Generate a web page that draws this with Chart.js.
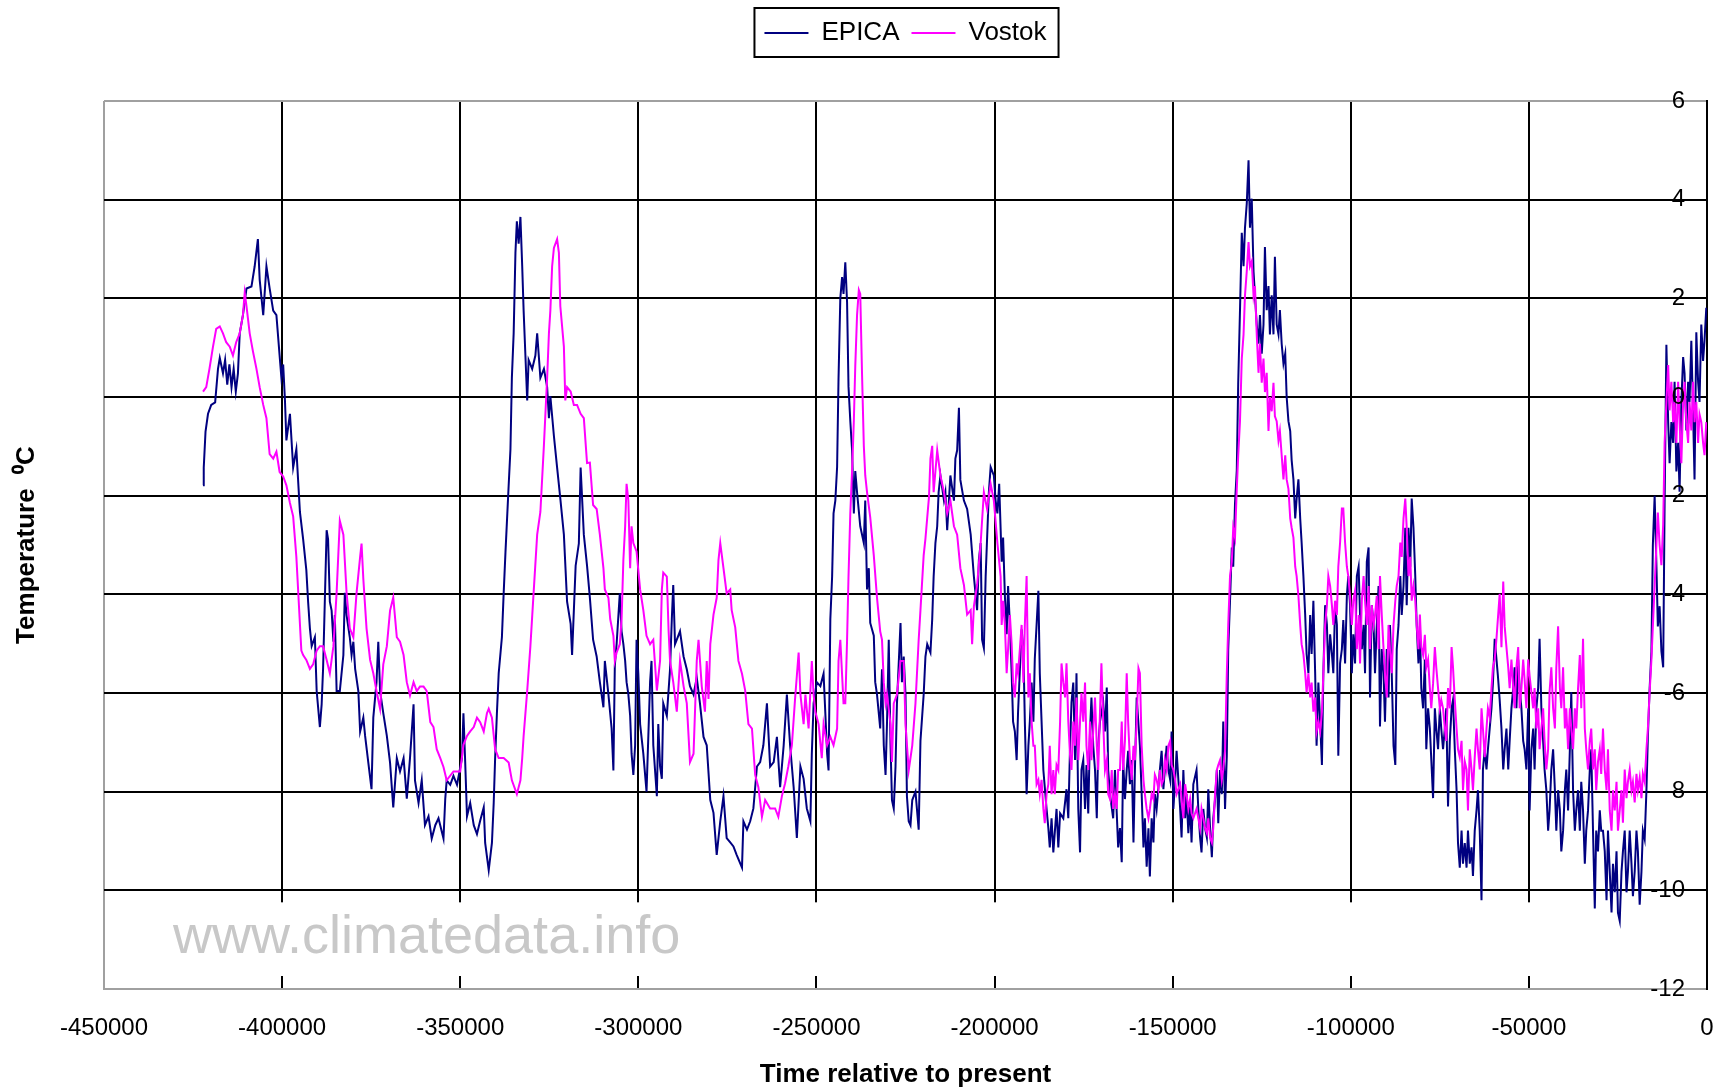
<!DOCTYPE html>
<html>
<head>
<meta charset="utf-8">
<title>EPICA and Vostok temperature</title>
<script src="https://cdn.jsdelivr.net/npm/chart.js@4.4.1/dist/chart.umd.min.js"></script>
<style>
  html, body { margin: 0; padding: 0; background: #fff; }
  #wrap { width: 1727px; height: 1091px; }
</style>
</head>
<body>
<div id="wrap"><canvas id="chart" width="1727" height="1091"></canvas></div>
<script>
// ages are thousands of years before present, temps in deg C
const epicaAgeKyr = [
  -422.2,-422.0,-421.5,-420.8,-419.9,-418.8,-418.0,-417.5,-416.6,-416.0,
  -415.4,-414.8,-414.2,-413.6,-413.0,-412.4,-411.9,-411.0,-410.0,-408.6,
  -407.7,-406.8,-406.3,-405.3,-404.4,-403.5,-402.5,-401.6,-400.7,-400.2,
  -399.7,-399.2,-398.8,-397.8,-396.9,-396.0,-395.5,-395.0,-394.1,-393.2,
  -392.7,-392.2,-391.7,-390.8,-390.3,-389.4,-388.9,-388.5,-387.5,-387.1,
  -386.6,-386.1,-385.6,-385.2,-384.7,-383.8,-382.8,-382.4,-381.9,-381.0,
  -380.5,-380.0,-379.5,-378.6,-378.1,-377.2,-376.7,-375.8,-374.9,-374.4,
  -373.5,-373.0,-372.5,-371.6,-370.6,-369.7,-368.8,-367.8,-366.9,-365.9,
  -365.0,-364.1,-363.1,-362.7,-361.7,-360.8,-359.9,-358.9,-358.0,-357.0,
  -356.1,-354.7,-354.2,-353.8,-352.8,-351.9,-350.9,-349.5,-349.1,-348.6,
  -348.1,-347.2,-346.2,-345.3,-344.4,-343.4,-343.0,-342.0,-341.1,-340.6,
  -340.2,-339.7,-339.2,-338.3,-337.8,-337.3,-336.4,-335.9,-335.5,-335.0,
  -334.5,-334.1,-333.6,-333.1,-332.6,-332.2,-331.7,-331.2,-330.8,-329.8,
  -328.9,-328.4,-327.5,-326.5,-325.6,-325.1,-324.7,-323.7,-322.8,-321.9,
  -320.9,-320.0,-319.0,-318.6,-317.6,-316.7,-316.2,-315.3,-314.4,-313.6,
  -312.7,-311.7,-310.8,-309.8,-309.4,-308.4,-307.5,-307.0,-306.6,-306.1,
  -305.2,-304.7,-304.2,-303.7,-303.3,-302.8,-302.3,-301.9,-301.4,-300.9,
  -300.5,-300.0,-299.5,-298.6,-297.7,-296.7,-296.3,-295.8,-294.8,-294.4,
  -293.9,-293.4,-293.0,-292.0,-291.1,-290.6,-290.2,-289.7,-289.2,-288.3,
  -287.3,-286.4,-285.5,-284.5,-283.6,-282.7,-281.7,-280.8,-279.8,-278.9,
  -278.0,-277.0,-276.1,-275.2,-274.2,-273.3,-272.4,-270.9,-270.5,-269.5,
  -268.6,-267.7,-266.7,-265.8,-264.9,-263.9,-263.0,-262.0,-261.1,-260.2,
  -259.2,-258.3,-257.4,-256.4,-255.5,-254.5,-253.6,-252.7,-251.7,-251.3,
  -250.8,-249.9,-248.9,-248.0,-247.0,-246.6,-246.1,-245.6,-245.2,-244.7,
  -244.2,-243.8,-243.3,-242.8,-242.4,-241.9,-241.4,-241.0,-240.5,-240.0,
  -239.5,-239.1,-238.6,-237.7,-236.7,-236.3,-235.8,-235.3,-234.9,-233.9,
  -233.5,-233.0,-232.1,-231.6,-231.1,-230.6,-230.2,-229.7,-229.2,-228.8,
  -228.3,-227.8,-227.4,-226.4,-226.0,-225.5,-225.0,-224.6,-224.1,-223.6,
  -223.1,-222.2,-221.3,-220.8,-219.9,-219.4,-218.9,-218.0,-217.5,-217.1,
  -216.6,-216.1,-215.7,-215.2,-214.2,-213.8,-213.3,-212.4,-211.4,-211.0,
  -210.5,-210.0,-209.6,-208.6,-207.7,-206.7,-205.8,-204.9,-204.4,-203.9,
  -203.5,-203.0,-202.5,-201.6,-201.1,-200.2,-199.7,-199.2,-198.7,-198.0,
  -197.6,-197.1,-196.6,-196.2,-195.7,-195.2,-194.8,-194.3,-193.8,-193.4,
  -192.4,-191.9,-191.5,-191.0,-190.5,-190.1,-189.6,-189.1,-188.7,-188.2,
  -187.7,-187.3,-186.8,-186.3,-185.4,-184.9,-184.5,-184.0,-183.5,-182.6,
  -182.1,-181.6,-180.7,-179.8,-179.3,-178.8,-178.4,-177.9,-177.4,-177.0,
  -176.5,-176.0,-175.6,-175.1,-174.6,-174.2,-173.7,-173.2,-172.8,-172.3,
  -171.8,-171.3,-170.9,-170.4,-169.5,-169.0,-168.5,-168.1,-167.6,-166.7,
  -166.2,-165.3,-164.8,-164.3,-163.9,-163.4,-162.9,-162.5,-162.0,-161.5,
  -161.0,-160.6,-160.1,-159.2,-158.7,-158.2,-157.8,-157.3,-156.8,-156.4,
  -155.9,-155.4,-155.0,-154.5,-153.6,-153.1,-152.6,-152.2,-151.7,-151.2,
  -150.7,-150.3,-149.8,-149.3,-148.9,-147.9,-147.5,-147.0,-146.5,-146.1,
  -145.6,-145.1,-144.7,-144.2,-143.3,-142.8,-142.3,-141.9,-141.4,-140.9,
  -140.4,-140.0,-139.5,-139.0,-138.6,-138.1,-137.6,-137.2,-136.7,-136.2,
  -135.8,-135.3,-134.8,-134.4,-133.9,-133.4,-133.0,-132.5,-132.0,-131.6,
  -131.1,-130.6,-130.1,-129.7,-129.2,-128.7,-128.3,-127.8,-127.3,-126.9,
  -126.4,-125.9,-125.5,-125.0,-124.5,-124.1,-123.6,-123.1,-122.7,-122.2,
  -121.7,-121.3,-120.8,-120.3,-119.9,-119.4,-118.9,-118.4,-118.0,-117.5,
  -117.0,-116.6,-116.1,-115.6,-115.2,-114.7,-114.2,-113.8,-113.3,-112.8,
  -112.4,-111.9,-111.4,-111.0,-110.5,-110.0,-109.6,-109.1,-108.6,-108.1,
  -107.7,-107.2,-106.7,-106.3,-105.8,-105.3,-104.9,-104.4,-103.9,-103.5,
  -103.0,-102.5,-102.1,-101.6,-101.1,-100.7,-100.2,-99.7,-99.3,-98.8,
  -98.3,-97.8,-97.4,-96.9,-96.4,-96.0,-95.5,-95.0,-94.6,-94.1,
  -93.6,-93.2,-92.7,-92.2,-91.8,-91.3,-90.8,-90.4,-89.9,-89.4,
  -89.0,-88.5,-88.0,-87.5,-87.1,-86.6,-86.1,-85.7,-85.2,-84.7,
  -84.3,-83.8,-83.3,-82.9,-82.4,-81.9,-81.5,-81.0,-80.6,-80.2,
  -79.7,-79.2,-78.8,-78.3,-77.8,-76.9,-76.4,-76.0,-75.5,-75.0,
  -74.6,-74.1,-73.6,-73.2,-72.7,-72.2,-71.7,-71.3,-70.8,-70.3,
  -69.9,-69.4,-68.9,-68.5,-68.0,-67.5,-67.1,-66.6,-66.1,-65.7,
  -65.2,-64.7,-64.3,-63.8,-63.3,-62.9,-62.4,-61.9,-61.5,-61.0,
  -60.5,-60.1,-59.6,-59.1,-58.7,-58.2,-57.7,-57.2,-56.8,-56.3,
  -55.8,-55.4,-54.9,-54.4,-54.0,-53.5,-53.0,-52.6,-52.1,-51.6,
  -51.2,-50.7,-50.2,-49.8,-49.3,-48.8,-48.4,-47.9,-47.4,-47.0,
  -46.5,-46.0,-45.6,-45.1,-44.6,-44.2,-43.7,-43.2,-42.7,-42.3,
  -41.8,-41.3,-40.9,-40.4,-39.9,-39.5,-39.0,-38.5,-38.1,-37.6,
  -37.1,-36.7,-36.2,-35.7,-35.3,-34.8,-34.3,-33.9,-33.4,-32.9,
  -32.5,-32.0,-31.5,-31.1,-30.6,-30.1,-29.7,-29.2,-28.7,-28.2,
  -27.8,-27.3,-26.8,-26.4,-25.9,-25.4,-25.0,-24.5,-24.0,-23.6,
  -23.1,-22.6,-22.2,-21.7,-21.2,-20.8,-20.3,-19.8,-19.4,-18.9,
  -18.4,-18.0,-17.5,-17.0,-16.6,-16.1,-15.6,-15.2,-14.7,-14.2,
  -13.8,-13.3,-12.8,-12.3,-11.9,-11.4,-10.9,-10.5,-10.0,-9.5,
  -9.1,-8.6,-8.1,-7.7,-7.2,-6.7,-6.3,-5.8,-5.3,-4.9,
  -4.4,-3.9,-3.5,-3.0,-2.5,-2.1,-1.6,-1.1,-0.7,-0.2
];
const epicaTemp = [
  -1.79,-1.43,-0.70,-0.34,-0.16,-0.11,0.57,0.79,0.48,0.75,
  0.25,0.66,0.20,0.57,0.11,0.48,1.29,1.66,2.20,2.24,
  2.65,3.20,2.38,1.66,2.65,2.20,1.75,1.66,0.84,0.39,
  0.66,-0.07,-0.88,-0.34,-1.43,-1.06,-1.70,-2.33,-2.88,-3.51,
  -4.15,-4.69,-5.05,-4.87,-5.96,-6.69,-6.23,-5.51,-2.70,-2.88,
  -4.15,-4.33,-4.96,-4.42,-5.96,-5.96,-5.23,-3.97,-4.42,-4.87,
  -5.23,-4.96,-5.51,-5.96,-6.78,-6.50,-6.87,-7.41,-7.95,-6.50,
  -5.78,-4.96,-5.96,-6.41,-6.87,-7.41,-8.32,-7.32,-7.59,-7.32,
  -8.14,-7.32,-6.23,-7.77,-8.23,-7.77,-8.68,-8.50,-8.95,-8.68,
  -8.54,-8.95,-8.14,-7.77,-7.86,-7.68,-7.86,-7.32,-6.41,-7.41,
  -8.50,-8.23,-8.68,-8.86,-8.59,-8.32,-9.04,-9.59,-9.04,-8.23,
  -7.32,-6.41,-5.60,-4.87,-3.97,-3.15,-1.79,-1.06,0.39,1.29,
  2.92,3.56,3.11,3.65,2.65,1.75,0.84,-0.07,0.75,0.57,
  0.84,1.29,0.39,0.57,0.20,-0.43,0.02,-0.79,-1.43,-2.06,
  -2.79,-4.15,-4.60,-5.23,-3.42,-2.97,-1.43,-2.79,-3.42,-4.07,
  -4.92,-5.26,-5.78,-6.29,-5.35,-6.03,-6.72,-7.57,-5.44,-5.01,
  -3.98,-4.75,-5.01,-5.35,-5.78,-6.03,-6.46,-7.23,-7.66,-7.06,
  -4.92,-5.61,-6.63,-7.23,-8.00,-5.78,-5.35,-7.06,-8.09,-6.63,
  -7.49,-7.74,-6.21,-6.46,-5.52,-4.50,-3.81,-5.01,-4.92,-4.75,
  -5.26,-5.52,-5.86,-6.03,-5.69,-6.21,-6.89,-7.06,-8.17,-8.43,
  -9.28,-8.60,-8.09,-8.94,-9.03,-9.11,-9.28,-9.54,-8.60,-8.77,
  -8.60,-8.34,-7.49,-7.40,-7.06,-6.21,-7.49,-7.40,-6.89,-7.91,
  -7.06,-6.03,-7.06,-7.91,-8.94,-7.49,-7.74,-8.34,-8.60,-7.23,
  -6.21,-5.78,-5.86,-5.61,-7.23,-7.57,-4.50,-3.64,-2.36,-2.10,
  -1.42,0.38,2.00,2.43,2.09,2.73,1.91,0.21,-0.48,-1.08,
  -2.36,-1.50,-1.93,-2.62,-2.96,-2.10,-3.90,-3.47,-4.58,-4.84,
  -5.78,-6.03,-6.72,-5.52,-7.06,-7.66,-6.63,-4.92,-7.06,-8.17,
  -8.34,-7.49,-6.21,-4.58,-5.78,-5.26,-6.03,-8.09,-8.60,-8.68,
  -8.17,-8.00,-8.77,-6.97,-6.03,-5.26,-5.01,-5.18,-4.50,-3.64,
  -2.96,-2.62,-1.93,-1.59,-2.10,-1.93,-2.70,-1.59,-2.10,-1.25,
  -1.08,-0.22,-1.68,-2.10,-2.27,-2.79,-3.64,-4.32,-3.30,-2.96,
  -4.92,-5.09,-3.64,-1.93,-1.42,-1.59,-2.10,-2.36,-1.76,-3.34,
  -2.85,-4.03,-4.81,-3.83,-4.62,-5.60,-6.58,-6.78,-7.36,-6.38,
  -4.71,-5.11,-6.58,-8.05,-7.07,-6.58,-5.79,-6.58,-5.30,-4.62,
  -3.93,-5.60,-6.58,-7.56,-8.35,-8.74,-9.13,-8.54,-9.23,-8.35,
  -9.13,-8.44,-8.54,-7.95,-8.54,-7.07,-6.19,-5.79,-7.36,-5.60,
  -8.35,-9.23,-7.56,-7.36,-8.35,-7.46,-8.44,-6.78,-6.09,-7.07,
  -7.56,-8.54,-7.07,-6.58,-6.19,-6.78,-5.89,-7.56,-8.05,-8.54,
  -7.56,-9.13,-8.74,-9.43,-7.36,-8.15,-7.56,-7.17,-7.85,-7.36,
  -9.03,-7.56,-6.09,-7.07,-8.05,-9.13,-8.54,-9.52,-8.74,-9.72,
  -8.54,-9.03,-8.05,-8.35,-7.56,-7.17,-7.95,-7.56,-7.07,-7.56,
  -7.76,-6.78,-8.35,-7.76,-7.17,-8.35,-8.93,-7.56,-8.54,-8.05,
  -8.84,-8.25,-9.03,-7.85,-7.56,-8.35,-8.93,-9.23,-8.35,-8.74,
  -8.93,-7.95,-8.74,-9.33,-8.54,-8.15,-7.56,-8.64,-7.56,-8.05,
  -6.58,-8.35,-7.27,-5.11,-4.13,-3.05,-3.44,-2.16,-1.48,0.29,
  1.76,3.33,2.65,3.43,3.92,4.80,3.43,4.02,2.55,2.06,
  1.47,1.08,1.66,0.88,1.47,3.04,1.76,2.25,1.27,2.06,
  1.27,2.84,1.47,1.27,1.76,1.08,0.68,0.88,0.00,-0.49,
  -0.69,-1.28,-1.67,-2.46,-2.06,-1.67,-2.46,-2.95,-3.63,-4.42,
  -5.21,-5.60,-4.42,-5.21,-4.13,-5.60,-7.07,-5.79,-6.58,-7.46,
  -5.60,-4.22,-4.62,-5.60,-4.81,-5.21,-5.60,-4.22,-4.62,-7.27,
  -5.40,-5.11,-4.52,-5.40,-4.03,-3.63,-4.22,-5.60,-4.81,-5.40,
  -3.63,-3.44,-4.42,-5.11,-4.62,-5.60,-3.34,-3.05,-6.09,-4.22,
  -4.62,-5.60,-4.62,-3.83,-6.68,-5.11,-5.60,-6.58,-5.11,-6.09,
  -4.62,-5.60,-7.07,-7.46,-5.11,-4.62,-3.63,-4.42,-3.83,-2.65,
  -4.22,-2.65,-3.44,-2.06,-2.65,-3.63,-4.62,-5.40,-4.65,-5.90,
  -6.31,-5.32,-7.14,-6.31,-6.72,-8.13,-6.31,-6.72,-7.14,-6.31,
  -6.72,-7.14,-6.72,-6.31,-8.30,-6.97,-6.31,-6.14,-7.14,-7.97,
  -9.04,-9.54,-8.79,-9.46,-9.04,-9.54,-8.79,-9.46,-9.13,-9.71,
  -8.79,-8.38,-7.97,-8.79,-10.20,-7.55,-7.14,-7.55,-7.14,-6.72,
  -6.31,-5.81,-4.90,-5.32,-5.65,-6.14,-6.72,-7.55,-7.14,-6.72,
  -7.55,-6.97,-6.31,-5.90,-5.48,-6.31,-5.32,-5.90,-6.31,-6.97,
  -7.14,-7.55,-6.31,-8.38,-7.14,-6.72,-7.55,-6.31,-5.90,-4.90,
  -6.31,-6.97,-7.55,-7.97,-8.79,-8.38,-7.55,-7.14,-7.97,-8.79,
  -7.97,-8.38,-9.21,-8.79,-7.97,-7.55,-8.38,-7.14,-5.98,-7.97,
  -8.79,-8.38,-7.97,-8.79,-7.80,-8.38,-9.46,-8.79,-8.38,-7.55,
  -7.14,-8.79,-10.37,-8.79,-9.21,-8.38,-8.79,-8.79,-9.21,-10.20,
  -8.79,-9.62,-10.45,-9.46,-10.04,-9.21,-10.45,-10.62,-9.62,-9.21,
  -8.79,-10.04,-9.62,-8.79,-9.46,-10.12,-9.62,-8.79,-9.21,-10.29,
  -9.62,-8.79,-8.96,-7.97,-6.89,-5.90,-5.15,-3.00,-2.00,-3.41,
  -4.65,-4.24,-5.15,-5.48,-2.17,1.06,-0.51,-1.34,-0.51,-0.93,
  0.31,-1.51,-0.93,-1.92,-0.10,0.81,0.48,-0.68,0.31,-0.10,
  1.14,-0.35,-1.67,1.31,0.31,-0.10,1.47,0.73,1.14,1.81
];
const vostokAgeKyr = [
  -422.2,-421.3,-420.4,-419.4,-418.5,-417.5,-416.6,-415.7,-414.7,-413.8,
  -412.9,-411.9,-411.0,-410.5,-410.0,-409.1,-408.2,-407.2,-406.3,-405.3,
  -404.4,-403.5,-402.5,-401.6,-400.7,-399.7,-398.8,-397.8,-396.9,-396.0,
  -395.0,-394.6,-394.1,-393.2,-392.2,-391.3,-390.3,-389.4,-388.5,-387.5,
  -386.6,-385.6,-384.7,-383.8,-382.8,-381.9,-381.0,-380.0,-379.1,-378.1,
  -377.7,-377.2,-376.3,-375.3,-374.4,-373.5,-372.5,-371.6,-370.6,-369.7,
  -368.8,-367.8,-366.9,-365.9,-365.0,-364.1,-363.1,-362.2,-361.3,-360.3,
  -359.4,-358.4,-357.5,-356.6,-355.6,-354.7,-353.8,-351.9,-350.0,-349.1,
  -348.1,-347.2,-346.2,-345.3,-344.4,-343.4,-342.5,-342.0,-341.1,-340.2,
  -339.2,-337.8,-336.4,-335.5,-334.1,-333.1,-332.6,-332.2,-331.2,-330.3,
  -329.4,-328.4,-327.5,-326.5,-325.6,-325.1,-324.7,-324.2,-323.7,-322.8,
  -322.3,-321.9,-320.9,-320.5,-320.0,-319.0,-318.1,-317.2,-316.2,-315.3,
  -314.4,-313.6,-312.7,-311.7,-310.8,-309.8,-309.4,-308.4,-307.9,-307.0,
  -306.6,-306.1,-305.2,-304.7,-304.2,-303.7,-303.3,-302.8,-302.3,-301.9,
  -301.4,-300.5,-299.5,-298.6,-297.7,-296.7,-295.8,-294.8,-293.9,-293.4,
  -293.0,-292.0,-291.5,-291.1,-290.2,-289.2,-288.3,-287.3,-286.4,-285.5,
  -284.5,-283.6,-283.1,-282.2,-281.3,-280.8,-280.3,-279.8,-278.9,-278.0,
  -277.5,-277.0,-276.1,-275.2,-274.2,-273.8,-272.8,-271.9,-270.9,-270.0,
  -269.1,-268.1,-267.2,-266.3,-265.3,-264.4,-263.0,-261.6,-260.7,-259.7,
  -258.8,-257.9,-256.9,-256.0,-255.0,-254.5,-253.6,-253.1,-252.2,-251.3,
  -250.8,-250.3,-249.4,-248.5,-248.0,-247.0,-246.1,-245.2,-244.2,-243.8,
  -243.3,-242.4,-241.9,-241.4,-241.0,-240.5,-240.0,-239.5,-239.1,-238.6,
  -238.1,-237.7,-237.2,-236.7,-236.3,-235.8,-234.9,-233.9,-233.0,-232.1,
  -231.6,-231.1,-230.6,-230.2,-229.2,-228.8,-228.3,-227.4,-226.4,-225.5,
  -225.0,-224.1,-223.1,-222.2,-221.3,-220.8,-219.9,-219.4,-218.4,-218.0,
  -217.5,-217.1,-216.1,-215.2,-214.2,-213.3,-212.4,-211.4,-210.5,-209.6,
  -208.6,-207.7,-206.7,-206.3,-205.8,-204.9,-203.9,-203.0,-202.1,-201.1,
  -200.2,-199.2,-198.3,-198.0,-197.6,-197.1,-196.6,-196.2,-195.7,-195.2,
  -194.8,-194.3,-193.8,-193.4,-192.9,-192.4,-191.9,-191.5,-191.0,-190.5,
  -190.1,-189.6,-189.1,-188.7,-188.2,-187.7,-187.3,-186.8,-186.3,-185.9,
  -185.4,-184.9,-184.5,-184.0,-183.5,-183.1,-182.6,-182.1,-181.6,-181.2,
  -180.7,-180.2,-179.8,-179.3,-178.8,-178.4,-177.9,-177.4,-177.0,-176.5,
  -176.0,-175.6,-175.1,-174.6,-174.2,-173.7,-173.2,-172.8,-172.3,-171.8,
  -171.3,-170.9,-170.4,-170.0,-169.5,-169.0,-168.5,-168.1,-167.6,-167.1,
  -166.7,-166.2,-165.7,-165.3,-164.8,-164.3,-163.9,-163.4,-162.9,-162.5,
  -162.0,-161.5,-161.0,-160.6,-160.1,-159.6,-159.2,-158.7,-158.2,-157.8,
  -157.3,-156.8,-156.4,-155.9,-155.4,-155.0,-154.5,-154.0,-153.6,-153.1,
  -152.6,-152.2,-151.7,-151.2,-150.7,-150.3,-149.8,-149.3,-148.9,-147.9,
  -147.5,-147.0,-146.5,-146.1,-145.6,-145.1,-144.7,-144.2,-143.3,-142.8,
  -142.3,-141.9,-141.4,-140.9,-140.4,-140.0,-139.5,-139.0,-138.6,-138.1,
  -137.6,-137.2,-136.7,-136.2,-135.8,-135.3,-134.8,-134.4,-133.9,-133.4,
  -133.0,-132.5,-132.0,-131.6,-131.1,-130.6,-130.1,-129.7,-129.2,-128.7,
  -128.3,-127.8,-127.3,-126.9,-126.4,-125.9,-125.5,-125.0,-124.5,-124.1,
  -123.6,-123.1,-122.7,-122.2,-121.7,-121.3,-120.8,-120.3,-119.9,-119.4,
  -118.9,-118.4,-118.0,-117.5,-117.0,-116.6,-116.1,-115.6,-115.2,-114.7,
  -114.2,-113.8,-113.3,-112.8,-112.4,-111.9,-111.4,-111.0,-110.5,-110.0,
  -109.6,-109.1,-108.6,-108.1,-107.7,-107.2,-106.7,-106.3,-105.8,-105.3,
  -104.9,-104.4,-103.9,-103.5,-103.0,-102.5,-102.1,-101.6,-101.1,-100.7,
  -100.2,-99.7,-99.3,-98.8,-98.3,-97.8,-97.4,-96.9,-96.4,-96.0,
  -95.5,-95.0,-94.6,-94.1,-93.6,-93.2,-92.7,-92.2,-91.8,-91.3,
  -90.8,-90.4,-89.9,-89.4,-89.0,-88.5,-88.0,-87.5,-87.1,-86.6,
  -86.1,-85.7,-85.2,-84.7,-84.3,-83.8,-83.3,-82.9,-82.4,-81.9,
  -81.5,-81.0,-80.6,-80.2,-79.7,-79.2,-78.8,-78.3,-77.8,-77.4,
  -76.9,-76.4,-76.0,-75.5,-75.0,-74.6,-74.1,-73.6,-73.2,-72.7,
  -72.2,-71.7,-71.3,-70.8,-70.3,-69.9,-69.4,-68.9,-68.5,-68.0,
  -67.5,-67.1,-66.6,-66.1,-65.7,-65.2,-64.7,-64.3,-63.8,-63.3,
  -62.9,-62.4,-61.9,-61.5,-61.0,-60.5,-60.1,-59.6,-59.1,-58.7,
  -58.2,-57.7,-57.2,-56.8,-56.3,-55.8,-55.4,-54.9,-54.4,-54.0,
  -53.5,-53.0,-52.6,-52.1,-51.6,-51.2,-50.7,-50.2,-49.8,-49.3,
  -48.8,-48.4,-47.9,-47.4,-47.0,-46.5,-46.0,-45.6,-45.1,-44.6,
  -44.2,-43.7,-43.2,-42.7,-42.3,-41.8,-41.3,-40.9,-40.4,-39.9,
  -39.5,-39.0,-38.5,-38.1,-37.6,-37.1,-36.7,-36.2,-35.7,-35.3,
  -34.8,-34.3,-33.9,-33.4,-32.9,-32.5,-32.0,-31.5,-31.1,-30.6,
  -30.1,-29.7,-29.2,-28.7,-28.2,-27.8,-27.3,-26.8,-26.4,-25.9,
  -25.4,-25.0,-24.5,-24.0,-23.6,-23.1,-22.6,-22.2,-21.7,-21.2,
  -20.8,-20.3,-19.8,-19.4,-18.9,-18.4,-18.0,-17.5,-17.0,-16.6,
  -16.1,-15.6,-15.2,-14.7,-14.2,-13.8,-13.3,-12.8,-12.3,-11.9,
  -11.4,-10.9,-10.5,-10.0,-9.5,-9.1,-8.6,-8.1,-7.7,-7.2,
  -6.7,-6.3,-5.8,-5.3,-4.9,-4.4,-3.9,-3.5,-3.0,-2.5,
  -2.1,-1.6,-1.1,-0.7,-0.2
];
const vostokTemp = [
  0.11,0.20,0.57,1.02,1.38,1.43,1.29,1.11,1.02,0.84,
  1.11,1.29,1.66,2.11,1.84,1.29,0.93,0.57,0.20,-0.16,
  -0.43,-1.16,-1.25,-1.11,-1.52,-1.61,-1.79,-2.15,-2.42,-3.24,
  -4.60,-5.14,-5.23,-5.33,-5.51,-5.42,-5.14,-5.05,-5.05,-5.33,
  -5.60,-5.05,-3.97,-2.51,-2.79,-3.97,-4.69,-4.87,-3.97,-3.24,
  -2.97,-3.69,-4.69,-5.33,-5.60,-5.96,-6.32,-5.42,-5.05,-4.33,
  -4.06,-4.87,-4.96,-5.23,-5.78,-6.05,-5.78,-5.96,-5.87,-5.87,
  -5.96,-6.59,-6.69,-7.14,-7.32,-7.50,-7.77,-7.59,-7.59,-7.05,
  -6.87,-6.78,-6.69,-6.50,-6.59,-6.78,-6.41,-6.32,-6.50,-7.14,
  -7.32,-7.32,-7.41,-7.77,-8.05,-7.77,-7.32,-6.87,-5.96,-5.05,
  -3.97,-2.79,-2.33,-0.97,0.39,1.29,1.75,2.65,3.02,3.20,
  2.92,1.84,1.02,-0.07,0.20,0.11,-0.16,-0.16,-0.34,-0.43,
  -1.34,-1.33,-2.19,-2.27,-2.79,-3.47,-3.90,-4.07,-4.50,-4.84,
  -5.35,-5.18,-5.01,-4.50,-3.30,-2.62,-1.76,-2.10,-3.47,-2.62,
  -2.96,-3.13,-3.90,-4.32,-4.84,-5.01,-4.92,-5.95,-5.35,-3.90,
  -3.56,-3.64,-4.75,-5.35,-5.78,-6.38,-5.35,-5.86,-6.21,-7.40,
  -7.23,-5.35,-4.92,-5.86,-6.38,-5.35,-6.12,-5.01,-4.41,-4.07,
  -3.30,-2.96,-3.47,-3.98,-3.90,-4.32,-4.67,-5.35,-5.61,-5.95,
  -6.63,-6.72,-7.66,-7.91,-8.51,-8.17,-8.34,-8.34,-8.51,-8.09,
  -7.83,-7.49,-7.06,-6.12,-5.18,-6.03,-6.63,-6.03,-6.72,-5.35,
  -6.03,-6.38,-6.63,-7.32,-6.63,-7.06,-6.89,-7.06,-6.72,-5.35,
  -4.92,-6.21,-6.21,-4.92,-3.64,-2.36,-1.50,-0.48,0.63,1.66,
  2.17,2.09,0.46,-0.99,-1.59,-1.93,-2.44,-3.21,-4.07,-4.75,
  -4.92,-5.78,-6.21,-6.03,-6.63,-7.40,-6.21,-6.03,-5.35,-5.35,
  -6.63,-7.57,-7.06,-6.21,-4.92,-4.32,-3.21,-2.87,-2.02,-1.25,
  -0.99,-1.93,-1.08,-1.59,-1.93,-2.36,-2.10,-2.62,-2.79,-3.47,
  -3.81,-4.41,-4.32,-5.01,-4.24,-3.81,-2.96,-1.93,-2.27,-1.76,
  -2.10,-2.96,-3.64,-4.62,-4.13,-4.62,-5.60,-5.11,-4.42,-5.01,
  -5.79,-6.09,-5.40,-5.60,-5.11,-4.62,-5.79,-4.62,-3.63,-6.09,
  -5.60,-6.58,-7.07,-7.07,-7.85,-7.76,-8.05,-7.76,-8.35,-8.64,
  -8.05,-7.85,-7.07,-8.05,-7.56,-8.05,-7.46,-7.56,-6.58,-5.40,
  -5.79,-6.09,-5.40,-6.58,-7.27,-7.56,-6.58,-7.07,-6.09,-7.36,
  -6.58,-6.00,-6.58,-5.79,-7.07,-7.56,-6.58,-7.36,-6.78,-6.09,
  -7.07,-7.56,-6.38,-5.40,-6.58,-7.56,-7.36,-8.05,-8.15,-7.56,
  -8.35,-8.05,-8.35,-7.56,-7.56,-6.58,-7.56,-6.97,-5.60,-6.58,
  -7.36,-7.76,-7.07,-7.36,-6.58,-5.50,-5.60,-7.07,-7.76,-8.05,
  -8.35,-8.54,-8.35,-8.05,-8.15,-7.66,-7.76,-7.95,-7.56,-7.85,
  -7.76,-7.36,-7.56,-7.07,-6.97,-7.46,-7.56,-7.76,-8.05,-7.85,
  -8.15,-8.54,-7.85,-8.05,-8.35,-8.15,-8.44,-8.54,-8.35,-8.54,
  -8.74,-8.35,-8.54,-8.74,-8.84,-8.54,-8.93,-9.03,-8.74,-8.05,
  -7.56,-7.46,-7.36,-7.76,-7.56,-7.17,-5.60,-4.62,-3.63,-3.34,
  -2.65,-2.85,-1.86,-1.18,-0.49,0.78,1.27,2.06,2.55,3.14,
  2.65,2.75,2.06,2.25,1.27,0.49,1.08,0.29,0.78,0.10,
  0.49,-0.69,0.00,-0.29,0.29,-0.39,-0.49,-0.88,-0.69,-1.18,
  -1.67,-1.18,-1.67,-1.86,-2.46,-2.65,-2.85,-3.44,-3.63,-4.03,
  -4.62,-5.01,-5.21,-5.60,-5.99,-5.60,-6.09,-5.79,-6.38,-6.09,
  -6.78,-6.58,-6.78,-6.38,-5.60,-4.62,-4.22,-3.63,-3.83,-4.22,
  -4.62,-4.13,-4.42,-3.44,-2.95,-2.26,-2.26,-2.95,-3.44,-3.63,
  -4.03,-4.62,-4.13,-3.93,-5.11,-4.42,-5.40,-4.13,-3.63,-4.13,
  -4.62,-3.83,-5.11,-4.22,-4.62,-4.42,-4.03,-5.11,-3.63,-4.42,
  -5.11,-5.60,-6.09,-4.62,-5.11,-5.60,-4.62,-4.13,-3.83,-3.63,
  -2.95,-3.24,-2.46,-2.06,-2.65,-3.63,-3.24,-4.13,-3.83,-4.13,
  -4.62,-5.11,-4.41,-5.07,-5.23,-4.82,-5.48,-5.32,-5.90,-6.31,
  -5.81,-5.07,-5.48,-5.90,-6.31,-6.14,-6.31,-6.72,-6.97,-5.90,
  -6.31,-5.07,-5.48,-6.14,-6.72,-7.14,-7.30,-6.97,-7.97,-7.39,
  -7.55,-8.38,-7.14,-7.55,-7.97,-7.30,-6.72,-7.14,-7.55,-6.31,
  -6.72,-7.30,-6.72,-6.31,-6.48,-5.90,-5.48,-5.32,-4.90,-4.49,
  -3.99,-5.07,-3.74,-4.65,-5.07,-5.48,-5.90,-5.32,-5.90,-6.31,
  -5.48,-5.07,-6.31,-5.90,-5.32,-5.73,-6.31,-5.32,-5.65,-5.98,
  -6.31,-5.90,-6.72,-6.31,-7.14,-6.72,-6.31,-6.97,-7.55,-7.14,
  -5.98,-5.48,-6.31,-6.72,-5.48,-4.65,-5.90,-6.31,-5.48,-6.72,
  -6.31,-7.14,-6.31,-6.72,-7.14,-6.31,-6.72,-5.90,-5.23,-6.31,
  -4.90,-6.72,-7.14,-7.55,-6.97,-6.72,-7.55,-7.14,-7.97,-7.39,
  -7.14,-7.64,-6.72,-7.55,-7.97,-7.14,-8.38,-8.79,-7.97,-8.38,
  -7.80,-8.79,-8.38,-7.97,-8.63,-7.55,-8.13,-7.80,-7.55,-7.97,
  -7.80,-8.22,-7.64,-7.97,-7.72,-8.13,-7.64,-7.80,-7.14,-6.72,
  -5.98,-5.32,-4.65,-3.83,-3.00,-2.34,-3.00,-3.41,-2.58,-0.93,
  -0.10,0.65,-0.27,0.31,-0.51,-0.10,-0.93,0.31,-0.51,-1.34,
  -0.10,0.31,-0.51,-0.93,-0.10,-0.68,0.31,-0.51,-0.10,-0.93,
  -0.35,-0.51,-0.93,-1.18,-0.51
];

const xMin = -450000, xMax = 0, xStep = 50000;
const yMin = -12, yMax = 6, yStep = 2;

const FONT = '"Liberation Sans", Arial, Helvetica, sans-serif';
Chart.defaults.font.family = FONT;
Chart.defaults.color = '#000';

function toPoints(ages, temps) {
    return ages.map((a, i) => ({ x: a * 1000, y: temps[i] }));
}

// give the legend a fixed band above the plot
const legendSpace = {
    id: 'legendSpace',
    beforeInit(chart) {
        const fit = chart.legend.fit;
        chart.legend.fit = function () {
            fit.call(this);
            this.height = 93;
        };
    }
};

// white band above the x axis with the site name, under the data
const watermark = {
    id: 'watermark',
    beforeDatasetsDraw(chart) {
        const { ctx, chartArea: a, scales } = chart;
        const top = scales.y.getPixelForValue(-10) + 12;
        const bottom = a.bottom - 13;
        ctx.save();
        ctx.fillStyle = '#fff';
        ctx.fillRect(a.left + 2, top, a.right - a.left - 4, bottom - top);
        ctx.font = '54px ' + FONT;
        ctx.fillStyle = '#c8c8c8';
        ctx.textBaseline = 'alphabetic';
        ctx.fillText('www.climatedata.info', a.left + 69, a.bottom - 36);
        ctx.restore();
    }
};

// frame round the legend
const legendBox = {
    id: 'legendBox',
    afterDraw(chart) {
        const boxes = chart.legend.legendHitBoxes;
        if (!boxes || !boxes.length) return;
        let l = Infinity, r = -Infinity, t = Infinity, b = -Infinity;
        boxes.forEach(h => {
            l = Math.min(l, h.left); r = Math.max(r, h.left + h.width);
            t = Math.min(t, h.top); b = Math.max(b, h.top + h.height);
        });
        const ctx = chart.ctx;
        ctx.save();
        ctx.strokeStyle = '#000';
        ctx.lineWidth = 2;
        ctx.strokeRect(l - 10, t - 12, (r - l) + 22, (b - t) + 23);
        ctx.restore();
    }
};

const ctx = document.getElementById('chart').getContext('2d');
const chart = new Chart(ctx, {
    type: 'line',
    data: {
        datasets: [{
            label: 'EPICA',
            data: toPoints(epicaAgeKyr, epicaTemp),
            borderColor: '#000080',
            backgroundColor: '#000080',
            borderWidth: 2,
            pointRadius: 0,
            tension: 0,
            yAxisID: 'y',
            order: 1
        }, {
            label: 'Vostok',
            data: toPoints(vostokAgeKyr, vostokTemp),
            borderColor: '#ff00ff',
            backgroundColor: '#ff00ff',
            borderWidth: 2,
            pointRadius: 0,
            tension: 0,
            yAxisID: 'y',
            order: 0
        }]
    },
    options: {
        responsive: false,
        animation: false,
        events: [],
        layout: { padding: { top: 8, left: 0, right: 0, bottom: 0 } },
        plugins: {
            legend: {
                position: 'top',
                fullSize: false,
                labels: {
                    usePointStyle: true,
                    pointStyle: 'line',
                    pointStyleWidth: 44,
                    padding: 12,
                    color: '#000',
                    font: { size: 26 },
                    sort: (a, b) => a.datasetIndex - b.datasetIndex
                }
            },
            tooltip: { enabled: false }
        },
        scales: {
            x: {
                type: 'linear',
                position: 'bottom',
                min: xMin,
                max: xMax,
                afterFit: s => { s.height = 102; },
                ticks: {
                    stepSize: xStep,
                    autoSkip: false,
                    maxRotation: 0,
                    padding: 0,
                    font: { size: 24 },
                    color: '#000',
                    callback: v => String(v)
                },
                grid: {
                    color: c => (c.tick && c.tick.value === xMin) ? '#a0a0a0' : '#000',
                    lineWidth: 2,
                    drawTicks: true,
                    tickLength: 25,
                    tickColor: 'rgba(0,0,0,0)'
                },
                border: { color: '#a0a0a0', width: 2 },
                title: {
                    display: true,
                    text: 'Time relative to present',
                    color: '#000',
                    font: { size: 26, weight: 'bold' },
                    padding: { top: 0, bottom: 1 }
                }
            },
            y: {
                type: 'linear',
                position: 'right',
                min: yMin,
                max: yMax,
                afterFit: s => { s.width = 20; },
                ticks: {
                    stepSize: yStep,
                    mirror: true,
                    padding: -22,
                    z: 1,
                    font: { size: 24 },
                    color: '#000'
                },
                grid: {
                    color: c => (c.tick && (c.tick.value === yMax || c.tick.value === yMin)) ? '#a0a0a0' : '#000',
                    lineWidth: 2,
                    drawTicks: false
                },
                border: { color: '#000', width: 2 }
            },
            yTitle: {
                type: 'linear',
                axis: 'y',
                position: 'left',
                afterFit: s => { s.width = 104; },
                ticks: { display: false },
                grid: { display: false, drawTicks: false },
                border: { display: false },
                title: {
                    display: true,
                    text: 'Temperature  \u2070C',
                    color: '#000',
                    font: { size: 26, weight: 'bold' },
                    padding: { top: 11, bottom: 0 }
                }
            }
        }
    },
    plugins: [legendSpace, watermark, legendBox]
});
</script>
</body>
</html>
